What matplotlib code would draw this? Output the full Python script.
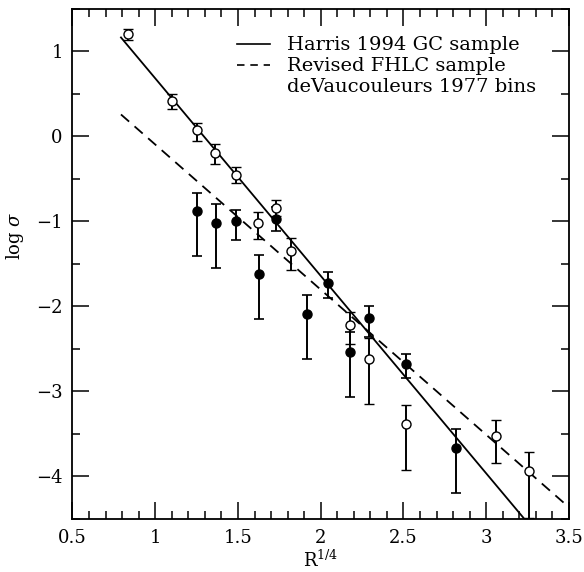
import numpy as np
import matplotlib
matplotlib.use("Agg")
import matplotlib.pyplot as plt
from matplotlib.ticker import MultipleLocator

plt.rcParams['font.family'] = 'DejaVu Serif'
plt.rcParams['mathtext.fontset'] = 'dejavuserif'

# ---- data ----
# open circles: Harris 1994 GC sample
harris_x = [0.835, 1.101, 1.252, 1.361, 1.488, 1.621, 1.730, 1.820, 2.177, 2.292, 2.515, 3.059, 3.258]
harris_y = [1.20, 0.42, 0.08, -0.19, -0.45, -1.02, -0.84, -1.35, -2.22, -2.62, -3.38, -3.52, -3.94]
harris_up = [0.06, 0.08, 0.08, 0.10, 0.09, 0.13, 0.09, 0.15, 0.16, 0.25, 0.22, 0.18, 0.23]
harris_lo = [0.06, 0.10, 0.13, 0.13, 0.10, 0.19, 0.09, 0.22, 0.22, 0.53, 0.54, 0.32, 0.55]

# filled circles: revised FHLC sample
fhlc_x = [1.252, 1.367, 1.488, 1.627, 1.730, 1.917, 2.044, 2.177, 2.292, 2.515, 2.815]
fhlc_y = [-0.88, -1.02, -1.00, -1.62, -0.97, -2.09, -1.72, -2.53, -2.14, -2.68, -3.67]
fhlc_up = [0.22, 0.22, 0.14, 0.23, 0.14, 0.23, 0.12, 0.23, 0.15, 0.12, 0.23]
fhlc_lo = [0.53, 0.53, 0.22, 0.53, 0.14, 0.53, 0.18, 0.54, 0.22, 0.16, 0.53]

# fitted lines: (intercept, slope, x start, x end)
harris_fit = (3.008, -2.324, 0.793, 3.30)
fhlc_fit = (1.613, -1.7075, 0.793, 3.494)

legend_labels = ["Harris 1994 GC sample", "Revised FHLC sample", "deVaucouleurs 1977 bins"]

fig = plt.figure(figsize=(5.84, 5.72), dpi=100)
ax = fig.add_axes([0.1241, 0.0927, 0.8502, 0.8916])

# fits
for fit, ls in [(harris_fit, '-'), (fhlc_fit, (0, (6, 4)))]:
    xx = np.array([fit[2], fit[3]])
    ax.plot(xx, fit[0] + fit[1] * xx, color='black', lw=1.3, ls=ls)

ax.errorbar(harris_x, harris_y, yerr=[harris_lo, harris_up], fmt='o', ms=6.5,
            mfc='white', mec='black', mew=1.0, ecolor='black', elinewidth=1.4,
            capsize=3.5, capthick=1.2, zorder=3)
ax.errorbar(fhlc_x, fhlc_y, yerr=[fhlc_lo, fhlc_up], fmt='o', ms=6.5,
            mfc='black', mec='black', ecolor='black', elinewidth=1.4,
            capsize=3.5, capthick=1.2, zorder=3)

ax.set_xlim(0.5, 3.5)
ax.set_ylim(-4.5, 1.5)
ax.xaxis.set_minor_locator(MultipleLocator(0.1))
ax.yaxis.set_minor_locator(MultipleLocator(0.5))
ax.set_xticks([0.5, 1, 1.5, 2, 2.5, 3, 3.5])
ax.set_xticklabels(['0.5', '1', '1.5', '2', '2.5', '3', '3.5'])
ax.set_yticks([1, 0, -1, -2, -3, -4])
ax.set_yticklabels(['1', '0', '\u22121', '\u22122', '\u22123', '\u22124'])
ax.tick_params(which='both', direction='in', top=True, right=True, width=1.1, labelsize=13)
ax.tick_params(which='major', length=12, pad=7)
ax.tick_params(which='minor', length=6)
for s in ax.spines.values():
    s.set_linewidth(1.3)

ax.set_xlabel(r'R$^{1/4}$', fontsize=13, labelpad=2)
ax.set_ylabel(r'log $\sigma$', fontsize=13)
ax.yaxis.set_label_coords(-0.094, 0.555)

# key, drawn by hand (third row has no line)
key_styles = ['-', (0, (4.5, 3.5)), None]
for i, (lab, ls) in enumerate(zip(legend_labels, key_styles)):
    yk = 0.931 - i * 0.0412
    if ls is not None:
        ax.plot([0.331, 0.398], [yk, yk], color='black', lw=1.2, ls=ls,
                transform=ax.transAxes)
    ax.text(0.432, yk - 0.0114, lab, fontsize=14, va='baseline', ha='left',
            transform=ax.transAxes)

fig.savefig('out.png', dpi=100)
